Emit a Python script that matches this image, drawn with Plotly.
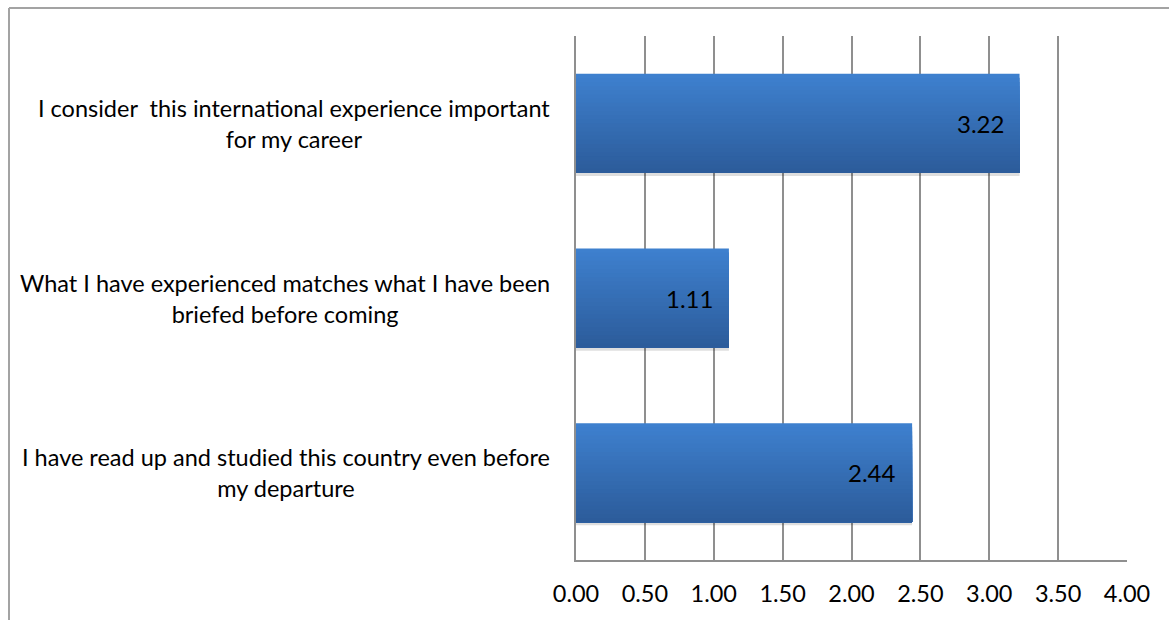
import plotly.graph_objects as go

# Survey statements and mean scores
statements = [
    "I consider  this international experience important<br>for my career",
    "What I have experienced matches what I have been<br>briefed before coming",
    "I have read up and studied this country even before<br>my departure",
]
scores = [3.22, 1.11, 2.44]
x_ticks = [0.0, 0.5, 1.0, 1.5, 2.0, 2.5, 3.0, 3.5, 4.0]

FONT = "Lato"
FS = 23.5
W, H = 1169, 620
ML, MR, MT, MB = 576, 42, 36, 60
BAR_W = 0.567

# Vertical gradient for the bars: light blue at top, darker at bottom
TOP = (62, 128, 206)
BOT = (44, 92, 155)
N = 24

fig = go.Figure()

# soft shadow under each bar
fig.add_trace(go.Bar(
    y=statements, x=scores, orientation="h",
    width=BAR_W, offset=-BAR_W / 2 + 0.018,
    marker=dict(color="rgba(0,0,0,0.13)", line=dict(width=0)),
    hoverinfo="skip", showlegend=False,
))

for i in range(N):
    t = i / (N - 1)
    c = tuple(round(TOP[k] + (BOT[k] - TOP[k]) * t) for k in range(3))
    start = -BAR_W / 2 + i * BAR_W / N
    fig.add_trace(go.Bar(
        y=statements, x=scores, orientation="h",
        width=BAR_W - i * BAR_W / N, offset=start,
        marker=dict(color="rgb(%d,%d,%d)" % c, line=dict(width=0)),
        hoverinfo="skip", showlegend=False,
    ))

annotations = []
# statement labels, centred lines, right edge just left of the axis
for s in statements:
    annotations.append(dict(
        x=0, xref="paper", y=s, yref="y", text=s,
        xanchor="right", yanchor="middle", align="center", xshift=-24,
        showarrow=False, font=dict(family=FONT, size=FS, color="#000000"),
    ))
# value labels inside the bar ends
for s, v in zip(statements, scores):
    annotations.append(dict(
        x=v, xref="x", y=s, yref="y", text="%.2f" % v,
        xanchor="right", yanchor="middle", xshift=-14,
        showarrow=False, font=dict(family=FONT, size=24, color="#000000"),
    ))

pw = W - ML - MR
ph = H - MT - MB
def px_x(p):
    return (p - ML) / pw
def px_y(p):
    return (H - MB - p) / ph

# outer chart frame (left and top edges)
shapes = [
    dict(type="line", xref="paper", yref="paper",
         x0=px_x(9), x1=px_x(9), y0=px_y(8), y1=px_y(H + 5),
         line=dict(color="#a3a3a3", width=2)),
    dict(type="line", xref="paper", yref="paper",
         x0=px_x(9), x1=px_x(W + 5), y0=px_y(8), y1=px_y(8),
         line=dict(color="#a3a3a3", width=2)),
]

fig.update_layout(
    width=W, height=H,
    margin=dict(l=ML, r=MR, t=MT, b=MB, pad=0),
    paper_bgcolor="white", plot_bgcolor="white",
    barmode="overlay",
    showlegend=False,
    font=dict(family=FONT, size=FS, color="#000000"),
    annotations=annotations,
    shapes=shapes,
    xaxis=dict(
        range=[0, 4], tickvals=x_ticks,
        ticktext=["%.2f" % v for v in x_ticks],
        showgrid=True, gridcolor="#8f8f8f", gridwidth=1.5,
        showline=True, linecolor="#8f8f8f", linewidth=1.5,
        zeroline=False, ticks="outside", ticklen=0,
        ticklabelstandoff=12,
        tickfont=dict(family=FONT, size=FS, color="#000000"),
        fixedrange=True,
    ),
    yaxis=dict(
        autorange="reversed", showticklabels=False,
        showgrid=False, zeroline=False,
        showline=True, linecolor="#8f8f8f", linewidth=1.5,
        ticks="", fixedrange=True,
    ),
)

fig.write_html("out.html")
